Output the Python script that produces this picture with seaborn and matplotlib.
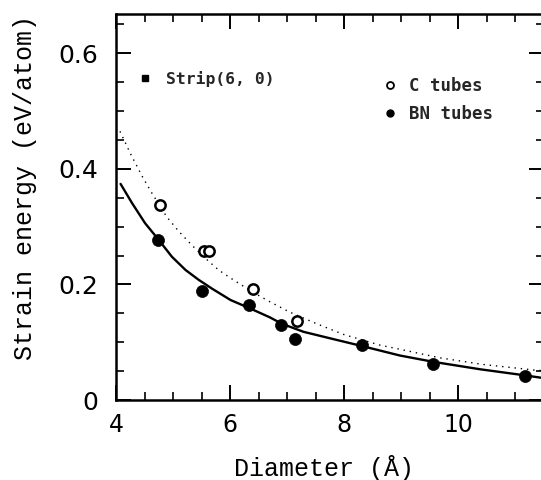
import matplotlib
matplotlib.use("Agg")
import matplotlib.pyplot as plt
import seaborn as sns
import pandas as pd
from matplotlib.lines import Line2D
from matplotlib.ticker import MultipleLocator, FuncFormatter

# ---- data ----
c_diam = [4.77, 5.55, 5.64, 6.40, 7.17]
c_energy = [0.338, 0.258, 0.258, 0.192, 0.136]

bn_diam = [4.74, 5.51, 6.34, 6.89, 7.14, 8.31, 9.57, 11.18]
bn_energy = [0.277, 0.188, 0.164, 0.130, 0.105, 0.096, 0.062, 0.042]

# fitted curves
bn_fit_d = [4.08, 4.28, 4.51, 4.75, 4.98, 5.22, 5.45, 5.68, 6.01, 6.34, 6.70, 6.91,
            7.29, 7.87, 8.31, 8.98, 9.57, 10.40, 11.15, 11.46]
bn_fit_e = [0.374, 0.341, 0.306, 0.277, 0.248, 0.225, 0.208, 0.193, 0.173, 0.159, 0.143,
            0.132, 0.118, 0.104, 0.0935, 0.077, 0.066, 0.053, 0.043, 0.0385]

c_fit_d = [4.07, 4.25, 4.46, 4.63, 4.89, 5.10, 5.33, 5.57, 5.80, 6.01, 6.41, 6.70, 7.05,
           7.52, 7.99, 8.63, 9.04, 9.68, 10.44, 11.32, 11.46]
c_fit_e = [0.465, 0.427, 0.387, 0.358, 0.317, 0.292, 0.268, 0.245, 0.225, 0.211, 0.186,
           0.170, 0.152, 0.132, 0.1135, 0.095, 0.0866, 0.073, 0.0615, 0.052, 0.051]

x_ticks = [4, 6, 8, 10]
y_ticks = [0, 0.2, 0.4, 0.6]

legend_labels = ["C tubes", "BN tubes"]
strip_label = "Strip(6, 0)"

# ---- figure ----
sns.set_theme(style="ticks")
plt.rcParams['font.family'] = ['DejaVu Sans']

fig = plt.figure(figsize=(5.41, 4.8), dpi=100)
ax = fig.add_axes([116 / 541, 80 / 480, 427.5 / 541, 386 / 480])

sns.lineplot(x=c_fit_d, y=c_fit_e, ax=ax, color="black", lw=1.0,
             linestyle=(0, (1, 3.5)), sort=False, estimator=None)
sns.lineplot(x=bn_fit_d, y=bn_fit_e, ax=ax, color="black", lw=1.7,
             sort=False, estimator=None)

sns.scatterplot(x=c_diam, y=c_energy, ax=ax, marker="o", s=55,
                color="white", edgecolor="black", linewidth=1.8, zorder=5)
sns.scatterplot(x=bn_diam, y=bn_energy, ax=ax, marker="o", s=75,
                color="black", edgecolor="black", linewidth=0.5, zorder=5)

ax.set_xlim(4, 11.5)
ax.set_ylim(0, 0.668)

ax.xaxis.set_major_locator(MultipleLocator(2))
ax.xaxis.set_minor_locator(MultipleLocator(0.5))
ax.yaxis.set_major_locator(MultipleLocator(0.2))
ax.yaxis.set_minor_locator(MultipleLocator(0.05))
ax.set_xticks(x_ticks)
ax.set_yticks(y_ticks)
ax.yaxis.set_major_formatter(FuncFormatter(lambda v, p: "0" if abs(v) < 1e-9 else f"{v:.1f}"))
ax.xaxis.set_major_formatter(FuncFormatter(lambda v, p: f"{v:.0f}"))

ax.tick_params(which="both", direction="in", top=True, right=True,
               color="black", labelcolor="black")
ax.tick_params(which="major", length=11, width=1.4, labelsize=17, pad=9)
ax.tick_params(axis="y", which="major", labelsize=18, pad=13)
ax.tick_params(which="minor", length=6, width=1.2)

for sp in ax.spines.values():
    sp.set_linewidth(1.8)
    sp.set_color("black")

ax.set_xlabel("Diameter (Å)", fontfamily="Liberation Mono", fontsize=18, color="black")
ax.xaxis.label.set_va("center")
ax.xaxis.set_label_coords(0.487, -0.176)
ax.set_ylabel("Strain energy (eV/atom)", fontfamily="Liberation Mono", fontsize=18,
              color="black")
ax.yaxis.label.set_va("center")
ax.yaxis.set_label_coords(-0.213, 0.55)

leg_font = dict(family="DejaVu Sans Mono", weight="bold", size=11.8)

h_strip = Line2D([], [], marker="s", color="black", ls="none", markersize=5)
leg1 = ax.legend([h_strip], [strip_label], loc="center left",
                 bbox_to_anchor=(0.048, 0.832), frameon=False, prop=leg_font,
                 handlelength=1.0, handletextpad=0.8, borderpad=0, borderaxespad=0)
ax.add_artist(leg1)

h_c = Line2D([], [], marker="o", color="black", markerfacecolor="white", ls="none",
             markersize=5, markeredgewidth=1.3)
h_bn = Line2D([], [], marker="o", color="black", ls="none", markersize=5)
ax.legend([h_c, h_bn], legend_labels, loc="center left",
          bbox_to_anchor=(0.624, 0.777), frameon=False,
          prop=dict(family="DejaVu Sans Mono", weight="bold", size=12.5),
          handlelength=0.8, handletextpad=0.7, borderpad=0, borderaxespad=0,
          labelspacing=0.6)

fig.savefig("out.png", dpi=100)
